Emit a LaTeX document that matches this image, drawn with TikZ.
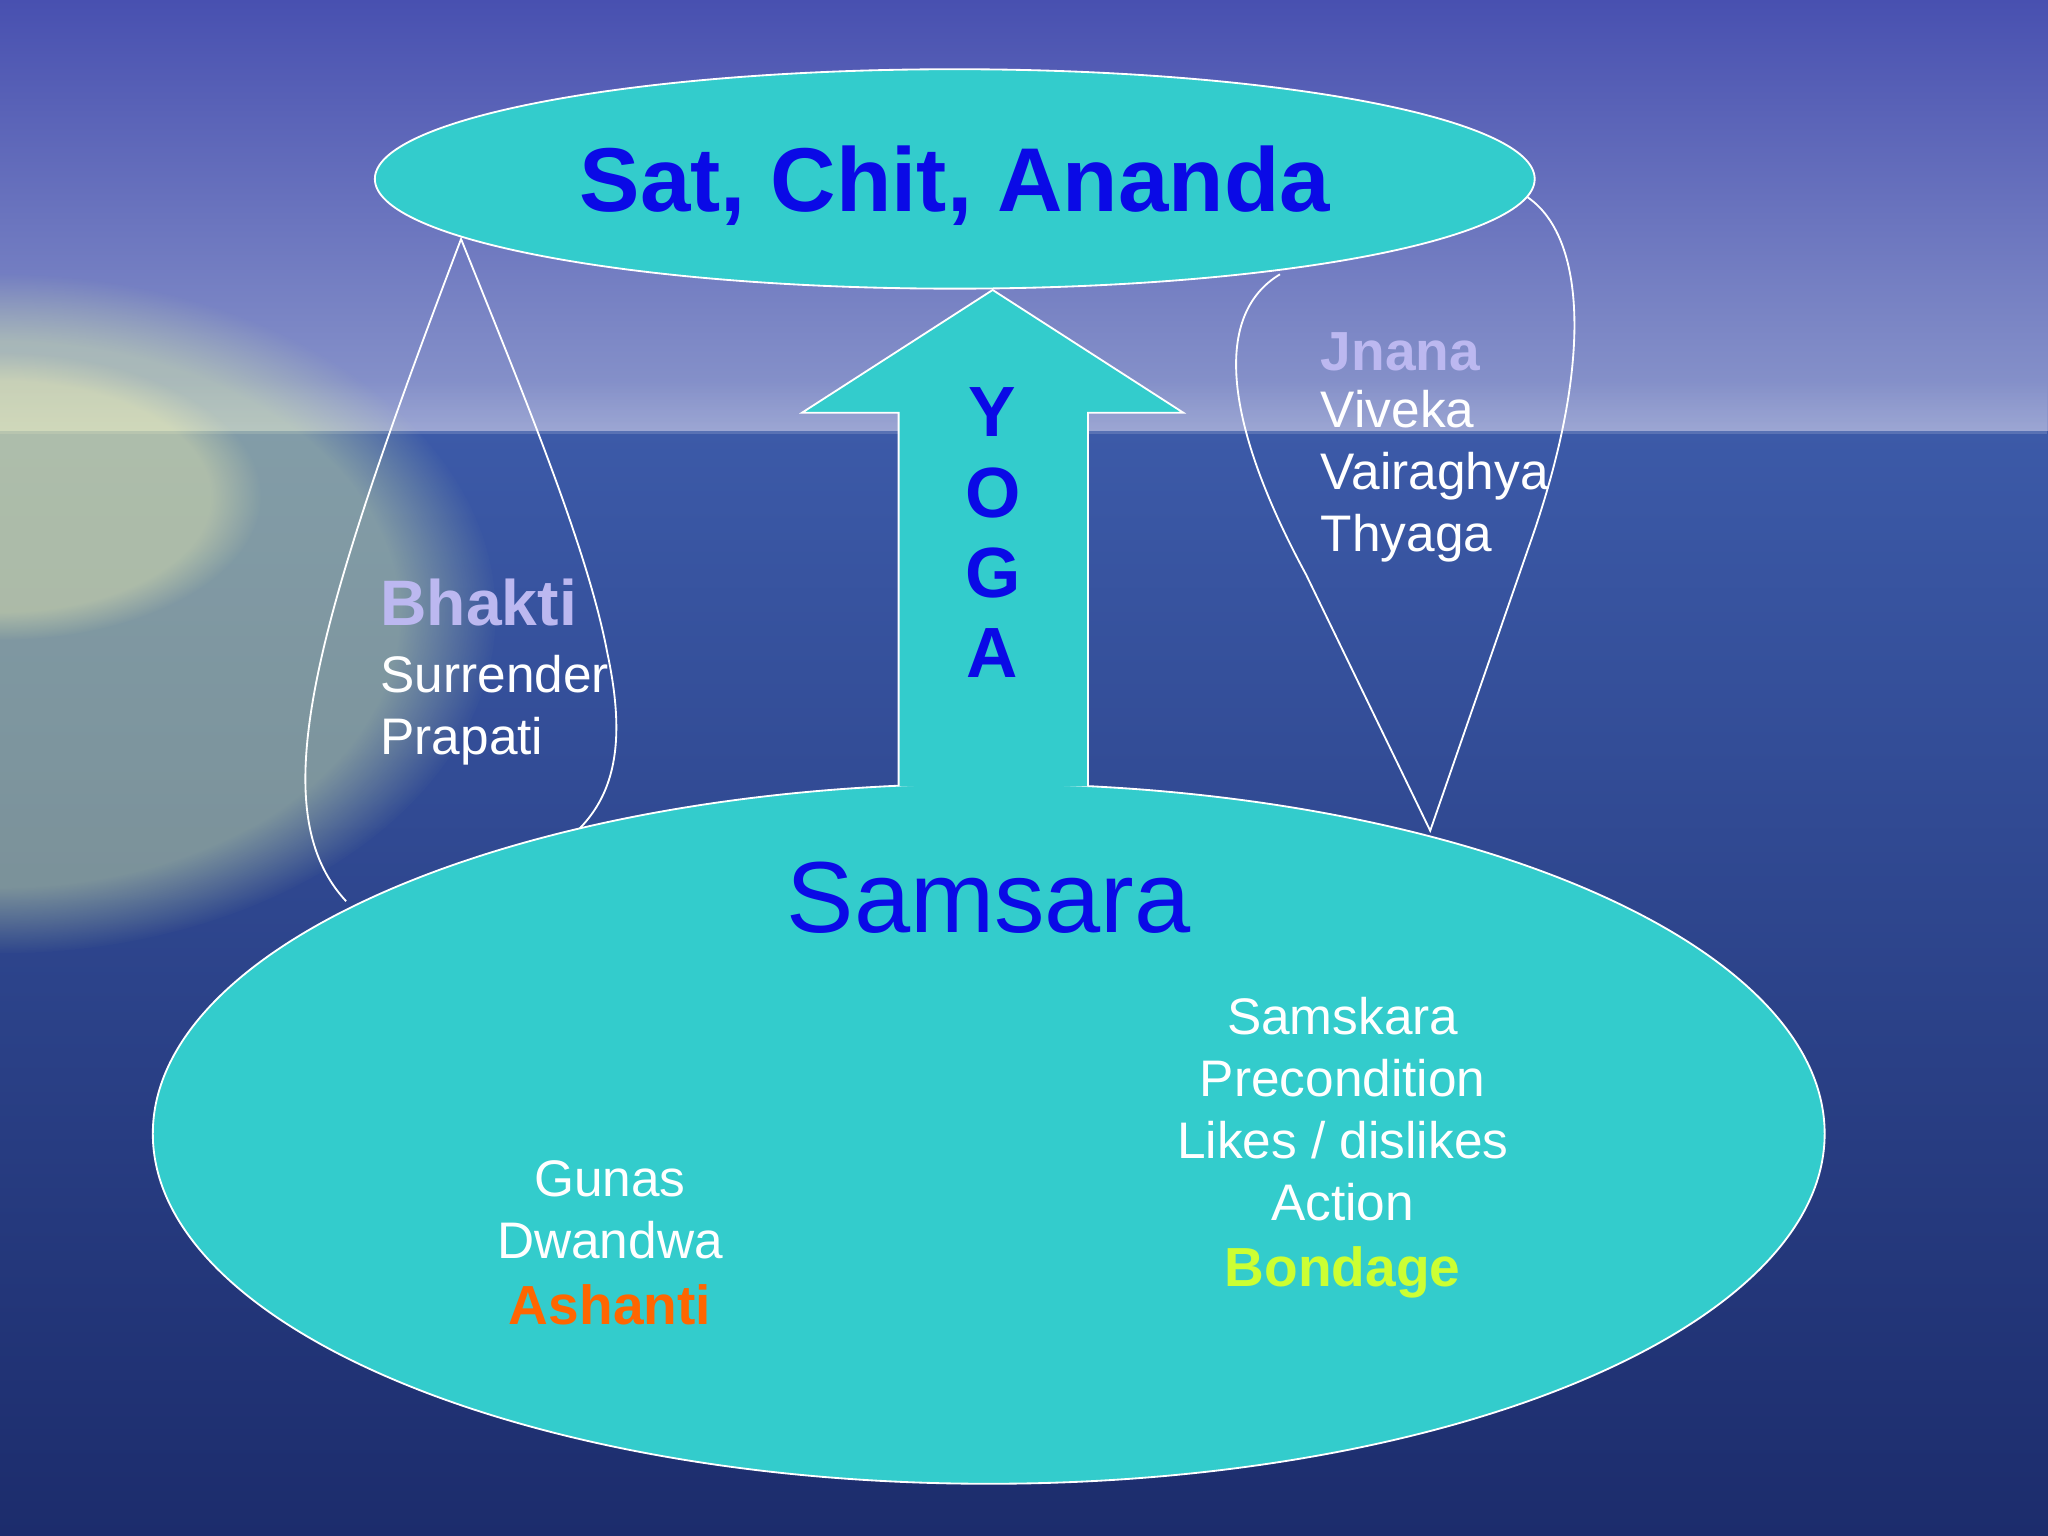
\documentclass[tikz,border=0pt]{standalone}
\usepackage{fontspec}
\usetikzlibrary{fadings}
\setmainfont{Liberation Sans}
\begin{document}
\begin{tikzpicture}[x=0.02cm,y=-0.02cm,
  blob/.style={fill=tealc,draw=white,line width=0.8pt},
  wl/.style={draw=white,line width=0.8pt},
  txt/.style={text=white,font=\fontsize{22.4}{27}\selectfont,align=left,inner sep=0pt},
  ctxt/.style={text=white,font=\fontsize{22.4}{27}\selectfont,align=center,inner sep=0pt}]
\definecolor{tealc}{HTML}{33CCCC}
\definecolor{bluet}{HTML}{0A0AE6}
\definecolor{lav}{HTML}{BCB8F0}
\definecolor{skytop}{HTML}{4850B0}
\definecolor{skymid}{HTML}{8C98CC}
\definecolor{seatop}{HTML}{3C5AA8}
\definecolor{seabot}{HTML}{1C2C6C}
\useasboundingbox (0,0) rectangle (1568,1176);
\fill[top color=skytop,bottom color=skymid] (0,0) rectangle (1568,330);
\fill[top color=seatop,bottom color=seabot] (0,330) rectangle (1568,1176);
\fill[white,opacity=0.15,path fading=north] (0,290) rectangle (1568,332);
\fill[cyan!30!yellow!50!white,opacity=0.45,path fading=circle with fuzzy edge 20 percent] (0,470) ellipse [x radius=380,y radius=260];
\fill[white!70!yellow,opacity=0.35,path fading=circle with fuzzy edge 20 percent] (0,380) ellipse [x radius=200,y radius=110];
% drops
\draw[wl] (265,690) .. controls (200,620) and (240,480) .. (353,183)
  .. controls (400,300) and (450,420) .. (465,500) .. controls (480,570) and (470,610) .. (440,638);
\draw[wl] (980,210) .. controls (930,240) and (935,320) .. (1000,440) -- (1095,636)
  -- (1170,420) .. controls (1220,280) and (1215,180) .. (1168,150);
% ellipses
\path[blob] (757,868) ellipse [x radius=640,y radius=268];
\path[blob] (731,137) ellipse [x radius=444,y radius=84];
% arrow
\path[fill=tealc,draw=white,line width=0.8pt] (688,602) -- (688,316) -- (614,316) -- (760,222) -- (906,316) -- (833,316) -- (833,602);
% texts
\node (sca) at (731,142) {\textcolor{bluet}{\fontsize{39.5}{46}\selectfont\bfseries Sat, Chit, Ananda}};
\node (sam) at (757,687) {\textcolor{bluet}{\fontsize{44}{52}\selectfont Samsara}};
\node[align=center,font=\fontsize{31}{35}\selectfont\bfseries,text=bluet,inner sep=0] (yoga) at (760,408) {Y\\O\\G\\A};
\node[txt,anchor=north west] (bh) at (291,443) {\textcolor{lav}{\fontsize{28}{34}\selectfont\bfseries Bhakti}\\[2pt]Surrender\\Prapati};
\node[txt,anchor=north west] (jn) at (1011,254) {\textcolor{lav}{\fontsize{24}{30}\selectfont\bfseries Jnana}\\[-2pt]Viveka\\Vairaghya\\Thyaga};
\node[ctxt,anchor=north] (gu) at (467,888) {Gunas\\Dwandwa\\[2pt]\textcolor[HTML]{FF6600}{\fontsize{24}{30}\selectfont\bfseries Ashanti}};
\node[ctxt,anchor=north] (sk) at (1028,763) {Samskara\\Precondition\\Likes / dislikes\\Action\\[2pt]\textcolor[HTML]{CCFF33}{\fontsize{24}{30}\selectfont\bfseries Bondage}};
\end{tikzpicture}
\end{document}
